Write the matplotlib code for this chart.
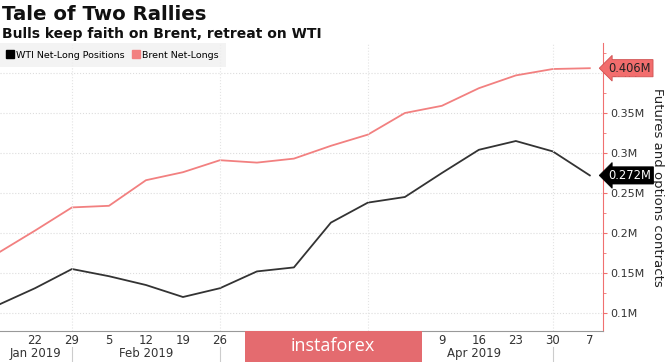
import matplotlib
matplotlib.use('Agg')
import matplotlib.pyplot as plt
import matplotlib.dates as mdates
import matplotlib.transforms as mtransforms
from matplotlib.patches import Rectangle
from matplotlib.lines import Line2D
import pandas as pd

# weekly COT data (Tuesdays), million contracts
dates = pd.date_range('2019-01-15', '2019-05-07', freq='7D')
wti = [0.110, 0.131, 0.155, 0.146, 0.135, 0.120, 0.131, 0.152, 0.157,
       0.213, 0.238, 0.245, 0.275, 0.304, 0.315, 0.302, 0.272]
brent = [0.175, 0.203, 0.232, 0.234, 0.266, 0.276, 0.291, 0.288, 0.293,
         0.309, 0.323, 0.350, 0.359, 0.381, 0.397, 0.405, 0.406]

y_ticks = [0.1, 0.15, 0.2, 0.25, 0.3, 0.35, 0.4]
y_labels = ['0.1M', '0.15M', '0.2M', '0.25M', '0.3M', '0.35M', '0.4M']
month_breaks = ['2019-01-29', '2019-02-26', '2019-03-26', '2019-04-30']
month_labels = [('2019-01-22', 'Jan 2019'), ('2019-02-12', 'Feb 2019'),
                ('2019-03-12', 'Mar 2019'), ('2019-04-15', 'Apr 2019')]

red = '#f28080'
axis_red = '#f07070'

fig = plt.figure(figsize=(6.65, 3.62), dpi=100)
ax = fig.add_axes([0.0, 0.0856, 0.9068, 0.7956])

ax.plot(dates, wti, color='#333333', lw=1.3)
ax.plot(dates, brent, color=red, lw=1.3)

ax.set_xlim(pd.Timestamp('2019-01-15 09:00'), pd.Timestamp('2019-05-09 12:00'))
ax.set_ylim(0.0775, 0.4375)

# y axis on the right
ax.yaxis.tick_right()
ax.set_yticks(y_ticks)
ax.set_yticklabels(y_labels)
ax.set_yticks([0.125, 0.175, 0.225, 0.275, 0.325, 0.375, 0.425], minor=True)
ax.tick_params(axis='y', which='major', colors=axis_red, length=3, pad=2,
               labelsize=8, labelcolor='#333333')
ax.tick_params(axis='y', which='minor', colors=axis_red, length=2)
ax.yaxis.set_label_position('right')
ax.set_ylabel('Futures and options contracts', rotation=270, labelpad=14,
              fontsize=9.5, color='#222222')

# x ticks: weekly day numbers
ax.set_xticks(dates[1:])
ax.xaxis.set_major_formatter(mdates.DateFormatter('%-d'))
ax.tick_params(axis='x', length=0, pad=2, labelsize=8.5, labelcolor='#333333')

for s in ['top', 'left']:
    ax.spines[s].set_visible(False)
ax.spines['right'].set_color(axis_red)
ax.spines['bottom'].set_color('#999999')

# grid
ax.grid(axis='y', which='major', color='#dddddd', ls=':', lw=0.8)
for d in month_breaks:
    ax.axvline(pd.Timestamp(d), color='#e4e4e4', ls=':', lw=0.8)

# month labels and separators under the axis
trans = mtransforms.blended_transform_factory(ax.transData, ax.transAxes)
for d, lab in month_labels:
    ax.text(pd.Timestamp(d), -0.077, lab, transform=trans, ha='center',
            va='center', fontsize=8.5, color='#333333')
for d in month_breaks:
    ax.plot([pd.Timestamp(d)] * 2, [-0.055, -0.105], transform=trans,
            color='#cccccc', lw=0.8, clip_on=False)

# last value tags
tag_trans = mtransforms.blended_transform_factory(ax.transAxes, ax.transData)
ax.text(1.009, brent[-1], '%.3fM' % brent[-1], transform=tag_trans,
        va='center', ha='left', fontsize=8.3, color='#222222',
        bbox=dict(boxstyle='larrow,pad=0.18', fc='#f26d6d', ec='#d05050', lw=0.6))
ax.text(1.009, wti[-1], '%.3fM' % wti[-1], transform=tag_trans,
        va='center', ha='left', fontsize=8.3, color='white',
        bbox=dict(boxstyle='larrow,pad=0.18', fc='black', ec='black', lw=0.6))

# legend
handles = [Line2D([], [], ls='none', marker='s', ms=5.5, color='black'),
           Line2D([], [], ls='none', marker='s', ms=5.5, color=red)]
leg = ax.legend(handles, ['WTI Net-Long Positions', 'Brent Net-Longs'],
                loc='upper left', bbox_to_anchor=(0.0, 1.0), ncol=2, frameon=True,
                fontsize=6.8, handlelength=0.6, handletextpad=0.25, columnspacing=1.0,
                borderaxespad=0.0, fancybox=False, borderpad=0.8)
leg.get_frame().set_facecolor('#f0f0f0')
leg.get_frame().set_edgecolor('none')

# titles
fig.text(0.003, 0.985, 'Tale of Two Rallies', fontsize=14.2, fontweight='bold',
         va='top', ha='left', color='#111111')
fig.text(0.003, 0.925, 'Bulls keep faith on Brent, retreat on WTI', fontsize=10,
         fontweight='bold', va='top', ha='left', color='#111111')

# watermark box
fig.patches.append(Rectangle((245 / 665, 0), 177 / 665, 31 / 362,
                             transform=fig.transFigure, fc='#e46b6f', ec='none', zorder=10))
fig.text(333 / 665, 16 / 362, 'instaforex', fontsize=13, color='white',
         ha='center', va='center', zorder=11, family='Open Sans')

fig.savefig('out.png', dpi=100)
